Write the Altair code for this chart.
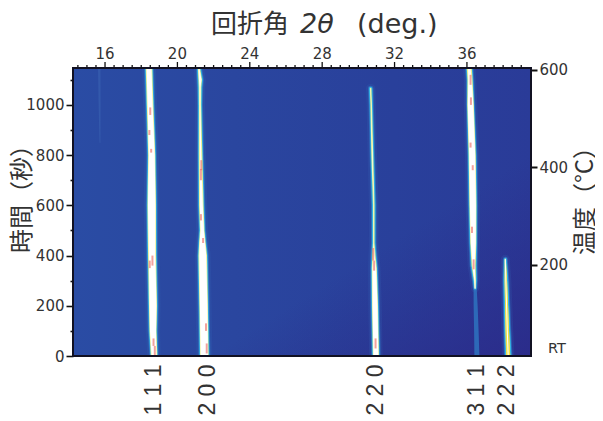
import altair as alt
import pandas as pd

# ---- values ----
X_DOMAIN = [14.23, 39.54]
T_DOMAIN = [0, 1147]
TEMP_DOMAIN = [13.3, 604]
X_TICKS = [v / 2 for v in range(29, 79)]
T_TICKS = list(range(0, 1101, 100))
TEMP_TICKS = [200, 400, 600]

peak_111_t = [0, 100, 200, 400, 600, 800, 1000, 1147]
peak_111_x = [18.71, 18.65, 18.65, 18.60, 18.58, 18.58, 18.49, 18.43]
peak_111_w = [7.5, 8.5, 9.5, 9.5, 10, 8.5, 8, 8]
peak_111_y = [6.5, 7, 8, 8, 8.5, 7, 6.5, 6.5]
peak_111_c = [5, 6, 7, 6.5, 7.5, 6, 5, 5]

peak_200_t = [0, 200, 400, 450, 500, 600, 800, 1000, 1070, 1100, 1147]
peak_200_x = [21.49, 21.45, 21.40, 21.38, 21.37, 21.32, 21.28, 21.25, 21.25, 21.26, 21.19]
peak_200_w = [10, 10, 10, 8, 6, 6, 5, 4, 4.5, 5.5, 4]
peak_200_y = [8.5, 8.5, 8.5, 6.5, 4.5, 4.5, 3.5, 2.2, 2.5, 3.5, 2.2]
peak_200_c = [7.5, 7.5, 7, 5.5, 3.5, 3, 1.5, 0.8, 1, 2.5, 0.8]

peak_220_t = [0, 200, 350, 400, 450, 600, 800, 1000, 1065]
peak_220_x = [30.97, 30.92, 30.88, 30.86, 30.85, 30.85, 30.77, 30.71, 30.68]
peak_220_w = [7.5, 7.5, 6.5, 5, 3.5, 3.6, 3.5, 3.3, 3.5]
peak_220_y = [6, 6, 5, 3.2, 1.5, 1.5, 1.8, 1.5, 1.5]
peak_220_c = [5, 5, 3.8, 1.5, 0.3, 0.3, 0.6, 0.3, 0.3]

peak_311_t = [270, 300, 360, 450, 600, 800, 1000, 1100, 1147]
peak_311_x = [36.45, 36.44, 36.37, 36.35, 36.33, 36.29, 36.20, 36.17, 36.13]
peak_311_w = [2.5, 4, 6, 7.5, 8.5, 8.5, 7.5, 6.5, 6.5]
peak_311_y = [0, 2, 4, 6, 7, 7, 6.5, 5, 5]
peak_311_c = [0, 0, 2.5, 5, 6, 6, 5.5, 3.5, 2.5]

peak_222_t = [0, 100, 200, 300, 385]
peak_222_x = [38.28, 38.23, 38.19, 38.15, 38.12]
peak_222_w = [6.5, 6, 5.5, 5, 3]
peak_222_y = [4, 3.5, 3, 2.4, 0]
peak_222_c = [0, 0, 0, 0, 0]

faint_t = [0, 100, 200, 280]
faint_x = [36.55, 36.52, 36.48, 36.45]
faint_w = [5, 4.5, 4, 3]
ghost_t = [850, 1000, 1147]
ghost_x = [15.72, 15.70, 15.68]
ghost_w = [1, 2, 2.5]

fleck_x = [18.62, 18.50, 18.45, 18.47, 18.75, 18.55, 21.30, 21.32, 21.30, 21.42, 21.62, 30.82, 30.87, 30.95, 36.20, 36.22, 36.32, 36.37, 36.28, 36.20, 18.68, 21.58]
fleck_t = [360, 960, 880, 350, 0, 810, 700, 740, 540, 450, 10, 380, 340, 30, 1080, 1000, 740, 345, 490, 830, 40, 100]
fleck_l = [40, 30, 20, 30, 40, 15, 45, 40, 25, 20, 40, 50, 40, 40, 40, 30, 20, 40, 25, 20, 30, 30]

hkl_text = ["1 1 1", "2 0 0", "2 2 0", "3 1 1", "2 2 2"]
hkl_x = [18.70, 21.67, 30.95, 36.53, 38.23]

# ---- tables ----
def table(name, t, x, w, y, c):
    return pd.DataFrame({"peak": name, "t": t, "x": x, "w": w, "y": y, "c": c})

peaks = pd.concat([
    table("111", peak_111_t, peak_111_x, peak_111_w, peak_111_y, peak_111_c),
    table("200", peak_200_t, peak_200_x, peak_200_w, peak_200_y, peak_200_c),
    table("220", peak_220_t, peak_220_x, peak_220_w, peak_220_y, peak_220_c),
    table("311", peak_311_t, peak_311_x, peak_311_w, peak_311_y, peak_311_c),
    table("222", peak_222_t, peak_222_x, peak_222_w, peak_222_y, peak_222_c),
], ignore_index=True)
yellow_222 = peaks[peaks["peak"] == "222"]
faint = pd.DataFrame({"peak": "f", "t": faint_t, "x": faint_x, "w": faint_w})
ghost = pd.DataFrame({"peak": "g", "t": ghost_t, "x": ghost_x, "w": ghost_w})
flecks = pd.DataFrame({"x": fleck_x, "t": fleck_t, "l": fleck_l})
flecks["t2"] = flecks["t"] + flecks["l"]
hkl = pd.DataFrame({"x": hkl_x, "label": hkl_text})
frame = pd.DataFrame({"a": [X_DOMAIN[0]], "b": [X_DOMAIN[1]], "c": [T_DOMAIN[0]], "d": [T_DOMAIN[1]], "v": [200]})
x_ticks_df = pd.DataFrame({"x": X_TICKS})
x_ticks_df["major"] = x_ticks_df["x"] % 4 == 0
x_major = x_ticks_df[x_ticks_df["major"]].copy()
x_major["label"] = x_major["x"].astype(int).astype(str)
x_minor = x_ticks_df[~x_ticks_df["major"]]

LATIN = "DejaVu Sans"
CJK = "Noto Sans CJK JP"
INK = "#333333"

xs = alt.Scale(domain=X_DOMAIN, nice=False, zero=False)
ts = alt.Scale(domain=T_DOMAIN, nice=False, zero=False)

t_axis = alt.Axis(
    orient="left", values=T_TICKS, title=None, grid=False, domain=False,
    labelExpr="datum.value % 200 == 0 ? datum.label : ''", labelFont=LATIN, labelFontSize=15,
    labelColor=INK, labelPadding=2, labelOverlap=False, labelFlush=False,
    tickColor="#111111", tickWidth=1.6,
    tickSize={"condition": {"test": "datum.value % 200 == 0", "value": 7}, "value": 3},
    format="d",
)


def trail(data, size, color, opacity=1.0):
    return alt.Chart(data).mark_trail(color=color, opacity=opacity, clip=True).encode(
        x=alt.X("x:Q", scale=xs, axis=None),
        y=alt.Y("t:Q", scale=ts, axis=None),
        size=alt.Size(f"{size}:Q", scale=None, legend=None),
        detail="peak:N",
        order="t:Q",
    )


def x_tick_marks(data, length):
    return alt.Chart(data).mark_rule(color="#111111", strokeWidth=1.3).encode(
        x=alt.X("x:Q", scale=xs, axis=None),
        y=alt.value(-length),
        y2=alt.value(0),
    )


background = alt.Chart(frame).mark_rect(
    color=alt.Gradient(
        gradient="linear", x1=0, x2=1, y1=0, y2=0,
        stops=[
            alt.GradientStop(offset=0, color="#2a4ca4"),
            alt.GradientStop(offset=0.35, color="#2a469f"),
            alt.GradientStop(offset=0.7, color="#29409b"),
            alt.GradientStop(offset=1, color="#2a3b98"),
        ],
    )
).encode(
    x=alt.X("a:Q", scale=xs, axis=None), x2="b:Q",
    y=alt.Y("c:Q", scale=ts, axis=t_axis), y2="d:Q",
)

shade = alt.Chart(frame).mark_rect(
    color=alt.Gradient(
        gradient="linear", x1=0, x2=1, y1=0, y2=1,
        stops=[
            alt.GradientStop(offset=0.65, color="rgba(43,40,135,0)"),
            alt.GradientStop(offset=1, color="rgba(43,40,135,0.8)"),
        ],
    )
).encode(
    x=alt.X("a:Q", scale=xs, axis=None), x2="b:Q",
    y=alt.Y("c:Q", scale=ts, axis=None), y2="d:Q",
)

halo_wide = peaks.assign(w=peaks["w"] + 6)
halo_near = peaks.assign(w=peaks["w"] + 2)


def note(txt, x, y, size, font=CJK, angle=None, style=None, align="left", baseline="alphabetic"):
    kw = dict(font=font, fontSize=size, align=align, baseline=baseline, color=INK)
    if angle is not None:
        kw["angle"] = angle
    if style:
        kw["fontStyle"] = style
    return alt.Chart(frame).mark_text(**kw).encode(
        x=alt.value(x), y=alt.value(y), text=alt.value(txt)
    )


temp_layer = alt.Chart(frame).mark_point(opacity=0).encode(
    y=alt.Y(
        "v:Q",
        scale=alt.Scale(domain=TEMP_DOMAIN, nice=False, zero=False),
        axis=alt.Axis(
            orient="right", values=TEMP_TICKS, title=None, grid=False, domain=False,
            labelFont=LATIN, labelFontSize=15, labelColor=INK, labelPadding=2,
            tickColor="#111111", tickWidth=2, tickSize=6, format="d", labelFlush=False,
        ),
    ),
    x=alt.value(0),
)

layers = [
    background,
    temp_layer,
    shade,
    x_tick_marks(x_minor, 3),
    x_tick_marks(x_major, 6),
    alt.Chart(x_major).mark_text(
        font=LATIN, fontSize=15, color=INK, align="center", baseline="alphabetic"
    ).encode(x=alt.X("x:Q", scale=xs, axis=None), y=alt.value(-9), text="label:N"),
    trail(ghost, "w", "#3a62b2", 0.6),
    trail(halo_wide, "w", "#3566b8", 0.22),
    trail(faint, "w", "#2f7cc6", 0.75),
    trail(halo_near, "w", "#2f86cf", 0.55),
    trail(peaks, "w", "#33b4e4"),
    trail(peaks, "y", "#eef08a"),
    trail(yellow_222, "y", "#efdf45"),
    trail(peaks, "c", "#ffffff"),
    alt.Chart(flecks).mark_rule(color="#e9645c", opacity=0.6, strokeWidth=2, clip=True).encode(
        x=alt.X("x:Q", scale=xs, axis=None),
        y=alt.Y("t:Q", scale=ts, axis=None),
        y2="t2:Q",
    ),
    alt.Chart(frame).mark_rect(fill=None, stroke="#111122", strokeWidth=2).encode(
        x=alt.X("a:Q", scale=xs, axis=None), x2="b:Q",
        y=alt.Y("c:Q", scale=ts, axis=None), y2="d:Q",
    ),
    alt.Chart(hkl).mark_text(
        font="Liberation Sans", fontSize=23, angle=270, align="center", baseline="middle", color=INK
    ).encode(
        x=alt.X("x:Q", scale=xs, axis=None), y=alt.value(322), text="label:N"
    ),
    note("回折角", 138, -35, 26),
    note("2θ", 227, -35, 27, font=LATIN, style="italic"),
    note("(deg.)", 284, -35, 27, font=LATIN),
    note("時間（秒）", -50, 125, 24, angle=270, align="center", baseline="middle"),
    note("温度（°C）", 513, 127, 24, angle=270, align="center", baseline="middle"),
    note("RT", 475, 281, 14.5, font=LATIN, baseline="middle"),
]

chart = alt.layer(*layers).resolve_scale(y="independent").properties(
    width=458, height=288,
    autosize=alt.AutoSizeParams(type="none"),
    padding={"left": 65, "top": 60, "right": 64, "bottom": 60},
).configure_view(stroke=None).configure(background="white")

chart.save("out.html", embed_options={"renderer": "svg", "actions": False})
